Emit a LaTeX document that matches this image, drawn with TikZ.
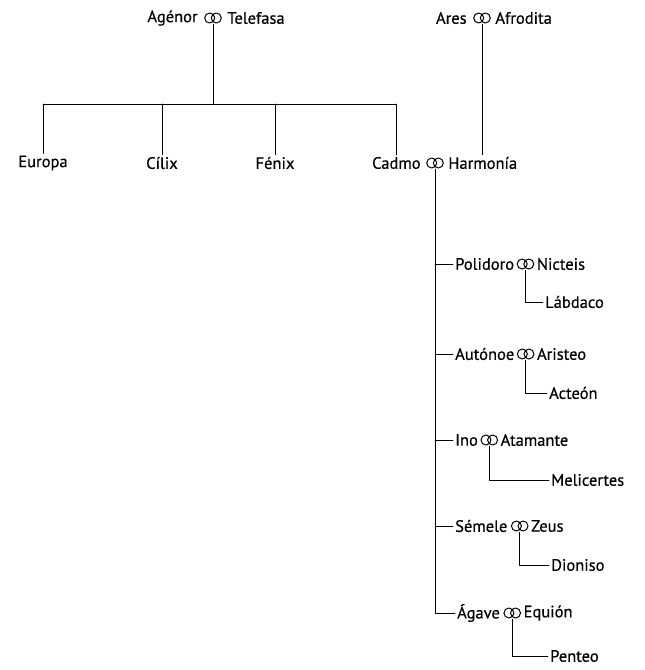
\documentclass[tikz,border=0pt]{standalone}
\usepackage{fontspec}
\setmainfont{PT Sans}
\newfontfamily\personfont{PT Sans}[FakeBold=0.5]
\usetikzlibrary{positioning}
\tikzset{every picture/.style={line cap=round, line join=round}}
\tikzset{person/.style={inner sep=2pt, font=\fontsize{16.5}{18}\personfont}}
\tikzset{wed/.style={minimum width=18pt, minimum height=12pt, inner sep=0pt,
  path picture={\draw[line width=1pt]
    ([xshift=-3.3pt]path picture bounding box.center) circle (5pt)
    ([xshift=3.3pt]path picture bounding box.center) circle (5pt);}}}
\tikzset{line/.style={draw, line width=0.85pt}}

\begin{document}
\begin{tikzpicture}[x=1pt,y=-1pt]
  \useasboundingbox (0,0) rectangle (645,670);

  % Agenor y Telefasa
  \node[wed] (w-agenor) at (213,18) {};
  \node[person, left=4pt of w-agenor] (agenor) {Agénor};
  \node[person, right=3pt of w-agenor] (telefasa) {Telefasa};

  % Ares y Afrodita
  \node[wed] (w-ares) at (482,18) {};
  \node[person, left=4pt of w-ares] (ares) {Ares};
  \node[person, right=2pt of w-ares] (afrodita) {Afrodita};

  % hijos de Agenor
  \coordinate (bar) at (215,104);
  \node[person] (europa) at (43,163) {Europa};
  \node[person] (cilix) at (162,163) {Cílix};
  \node[person] (fenix) at (275,163) {Fénix};
  \node[wed] (w-cadmo) at (435,163) {};
  \node[person, left=3pt of w-cadmo] (cadmo) {Cadmo};
  \node[person, right=2pt of w-cadmo] (harmonia) {Harmonía};

  \draw[line] (w-agenor.south) -- (w-agenor.south |- bar);
  \draw[line] (europa.north |- bar) -- (cadmo.north |- bar);
  \foreach \n in {europa,cilix,fenix,cadmo}
    \draw[line] (\n.north |- bar) -- (\n.north);
  \draw[line] (w-ares.south) -- (w-ares.south |- harmonia.north);

  % hijas e hijo de Cadmo
  \node[person, anchor=west] (polidoro) at (453,264) {Polidoro};
  \node[wed, right=0pt of polidoro] (w-polidoro) {};
  \node[person, right=0pt of w-polidoro] (nicteis) {Nicteis};
  \node[person, anchor=west] (labdaco) at (543,302) {Lábdaco};

  \node[person, anchor=west] (autonoe) at (453,354) {Autónoe};
  \node[wed, right=0pt of autonoe] (w-autonoe) {};
  \node[person, right=0pt of w-autonoe] (aristeo) {Aristeo};
  \node[person, anchor=west] (acteon) at (547,393) {Acteón};

  \node[person, anchor=west] (ino) at (453,440) {Ino};
  \node[wed, right=0pt of ino] (w-ino) {};
  \node[person, right=0pt of w-ino] (atamante) {Atamante};
  \node[person, anchor=west] (melicertes) at (549,480) {Melicertes};

  \node[person, anchor=west] (semele) at (453,526) {Sémele};
  \node[wed, right=1pt of semele] (w-semele) {};
  \node[person, right=0pt of w-semele] (zeus) {Zeus};
  \node[person, anchor=west] (dioniso) at (549,565) {Dioniso};

  \node[person, anchor=west] (agave) at (455,613) {Ágave};
  \node[wed, right=1pt of agave] (w-agave) {};
  \node[person, right=0pt of w-agave] (equion) {Equión};
  \node[person, anchor=west] (penteo) at (548,656) {Penteo};

  \draw[line] (w-cadmo.south) |- (agave.west);
  \foreach \n in {polidoro,autonoe,ino,semele}
    \draw[line] (w-cadmo.south |- \n.west) -- (\n.west);

  % nietos
  \draw[line] (w-polidoro.south) |- (labdaco.west);
  \draw[line] (w-autonoe.south) |- (acteon.west);
  \draw[line] (w-ino.south) |- (melicertes.west);
  \draw[line] (w-semele.south) |- (dioniso.west);
  \draw[line] (w-agave.south) |- (penteo.west);
\end{tikzpicture}
\end{document}
